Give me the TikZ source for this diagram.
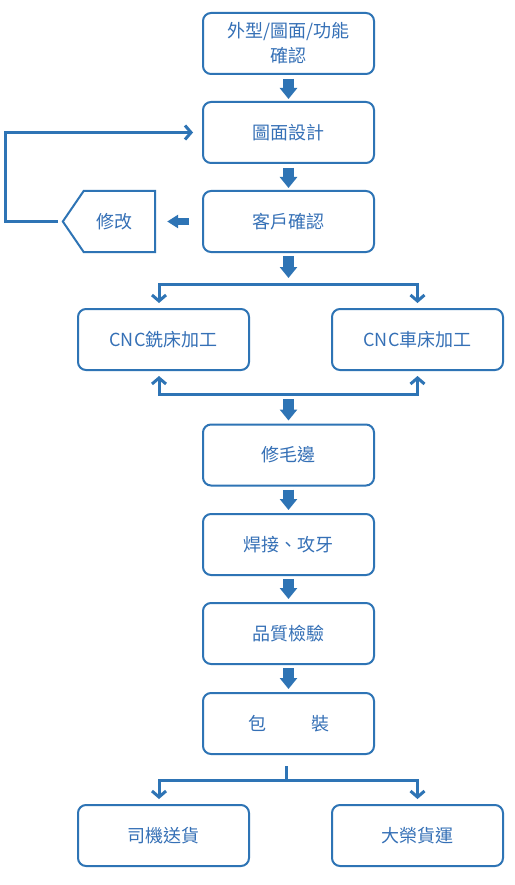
\documentclass[tikz,border=0pt]{standalone}
\usepackage{fontspec}
\setmainfont{Noto Sans CJK TC}
\usetikzlibrary{arrows.meta,calc}
\definecolor{flowblue}{HTML}{2E74B5}
\definecolor{textblue}{HTML}{3570B6}
\begin{document}
\begin{tikzpicture}[x=1pt,y=-1pt,
  box/.style={draw=flowblue,line width=2pt,rounded corners=8pt,minimum width=171pt,minimum height=61pt,
    text=textblue,font=\fontsize{18}{25}\selectfont,align=center,inner sep=0pt},
  blockarrow/.style={draw=flowblue,line width=11pt,-{Triangle[width=17pt,length=11pt]}},
  smallblock/.style={draw=flowblue,line width=7pt,-{Triangle[width=13pt,length=11pt]}},
  thinline/.style={draw=flowblue,line width=3pt},
  chev/.style={thinline,-{Straight Barb[length=6pt,width=14pt,line width=3pt]}}]
\useasboundingbox (0,0) rectangle (514,885);
\fill[white] (0,0) rectangle (514,885);

\node[box] (shape) at (288.5,43.5) {外型/圖面/功能\\確認};
\node[box] (design) at (288.5,132.5) {圖面設計};
\node[box] (confirm) at (288.5,221.5) {客戶確認};
\node[box] (mill) at (163.5,339.5) {CNC銑床加工};
\node[box] (lathe) at (417.5,339.5) {CNC車床加工};
\node[box] (trim) at (288.5,455) {修毛邊};
\node[box] (weld) at (288.5,544.5) {焊接、攻牙};
\node[box] (qc) at (288.5,633.5) {品質檢驗};
\node[box] (pack) at (288.5,723.5) {包\hspace{45pt}裝};
\node[box] (driver) at (163.5,835.5) {司機送貨};
\node[box] (freight) at (417.5,835.5) {大榮貨運};

% modify (pentagon)
\node[minimum width=92pt,minimum height=61pt,inner sep=0pt] (fix) at (109,221.5) {};
\draw[flowblue,line width=2pt] (fix.north east) -- ([xshift=21pt]fix.north west) -- (fix.west)
  -- ([xshift=21pt]fix.south west) -- (fix.south east) -- cycle;
\node[text=textblue,font=\fontsize{18}{25}\selectfont,inner sep=0pt] (fixlbl) at ([xshift=5pt]fix.center) {修改};

% block arrows
\draw[blockarrow] ([yshift=-4pt]shape.south) -- ([yshift=2pt]design.north);
\draw[blockarrow] ([yshift=-4pt]design.south) -- ([yshift=2pt]confirm.north);
\draw[smallblock] ([xshift=-13pt]confirm.west) -- ([xshift=12pt]fix.east);
\draw[blockarrow] ([yshift=-3pt]confirm.south) -- ([yshift=-25pt]confirm.south);

% feedback loop
\draw[chev] ([xshift=-5pt]fix.west) -- ++(-52,0) |- ([xshift=-9pt]design.west);

% split to CNC
\coordinate (split) at (288.5,284);
\draw[chev] (split) -| ([xshift=-4.5pt,yshift=5pt]mill.north);
\draw[chev] (split) -| ([yshift=5pt]lathe.north);

% merge from CNC
\coordinate (merge) at (288.5,394);
\draw[chev] (merge) -| ([xshift=-4.5pt,yshift=-5pt]mill.south);
\draw[chev] (merge) -| ([yshift=-5pt]lathe.south);
\draw[blockarrow] ([yshift=-5pt]merge) -- ([yshift=3pt]trim.north);

\draw[blockarrow] ([yshift=-3pt]trim.south) -- ([yshift=3pt]weld.north);
\draw[blockarrow] ([yshift=-3pt]weld.south) -- ([yshift=3pt]qc.north);
\draw[blockarrow] ([yshift=-3pt]qc.south) -- ([yshift=3pt]pack.north);

% split to delivery
\coordinate (ship) at (286,780);
\draw[thinline] ([xshift=-2.5pt,yshift=-11pt]pack.south) -- ([yshift=-1.5pt]ship);
\draw[chev] (ship) -| ([xshift=-4.5pt,yshift=5pt]driver.north);
\draw[chev] (ship) -| ([yshift=5pt]freight.north);
\end{tikzpicture}
\end{document}
